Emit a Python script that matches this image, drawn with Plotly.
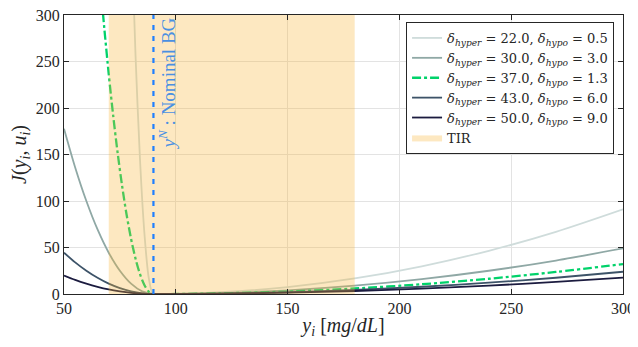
import plotly.graph_objects as go

# Parameters (legend)
delta_hyper = [22.0, 30.0, 37.0, 43.0, 50.0]
delta_hypo = [0.5, 3.0, 1.3, 6.0, 9.0]

# Curve samples
x1 = [80, 82, 84, 86, 88, 90, 100, 120, 150, 180, 210, 240, 270, 300]
y1 = [400, 256, 144, 64, 16, 0, 0.2, 1.9, 7.4, 16.7, 29.8, 46.5, 66.9, 91.1]

x2 = [50, 55, 60, 65, 70, 75, 80, 85, 90, 100, 120, 150, 180, 210, 240, 270, 300]
y2 = [177.8, 136.1, 100.0, 69.4, 44.4, 25.0, 11.1, 2.8, 0, 0.1, 1.0, 4.0, 9.0, 16.0, 25.0, 36.0, 49.0]

x3 = [66, 68, 70, 72, 74, 76, 78, 80, 82, 84, 86, 88, 90, 100, 120, 150, 180, 210, 240, 270, 300]
y3 = [340.8, 286.4, 236.7, 191.7, 151.5, 116.0, 85.2, 59.2, 37.9, 21.3, 9.5, 2.4, 0, 0.1, 0.7, 2.6, 5.9, 10.5, 16.4, 23.7, 32.2]

x4 = [50, 55, 60, 65, 70, 75, 80, 85, 90, 100, 120, 150, 180, 210, 240, 270, 300]
y4 = [44.4, 34.0, 25.0, 17.4, 11.1, 6.3, 2.8, 0.7, 0, 0.05, 0.5, 1.9, 4.4, 7.8, 12.2, 17.5, 23.9]

x5 = [50, 55, 60, 65, 70, 75, 80, 85, 90, 100, 120, 150, 180, 210, 240, 270, 300]
y5 = [19.8, 15.1, 11.1, 7.7, 4.9, 2.8, 1.2, 0.3, 0, 0.04, 0.4, 1.4, 3.2, 5.8, 9.0, 13.0, 17.6]

tir_low, tir_high = 70, 180
nominal_bg = 90

xs = [x1, x2, x3, x4, x5]
ys = [y1, y2, y3, y4, y5]
colors = ["#cfdcdb", "#8fa8a5", "#00d26a", "#3d5368", "#1b1b3f"]
dashes = ["solid", "solid", "9px,3px,3px,3px", "solid", "solid"]
widths = [1.8, 1.8, 2.3, 1.8, 1.8]

SERIF = "Liberation Serif"
fig = go.Figure()
for i in range(5):
    name = (f"<i>δ<sub>hyper</sub></i> = {delta_hyper[i]:.1f}, "
            f"<i>δ<sub>hypo</sub></i> = {delta_hypo[i]:.1f}")
    fig.add_trace(go.Scatter(
        x=xs[i], y=ys[i], mode="lines", name=name,
        line=dict(color=colors[i], width=widths[i], dash=dashes[i], shape="spline", smoothing=0.8),
    ))

# TIR band (drawn over the curves, semi-transparent)
fig.add_trace(go.Scatter(
    x=[tir_low, tir_high, tir_high, tir_low, tir_low],
    y=[0, 0, 300, 300, 0],
    mode="lines", fill="toself", fillcolor="rgba(249,178,51,0.3)",
    line=dict(width=0, color="rgba(0,0,0,0)"), name="TIR", hoverinfo="skip",
))

# Nominal BG line
fig.add_trace(go.Scatter(
    x=[nominal_bg, nominal_bg], y=[0, 300], mode="lines", showlegend=False,
    line=dict(color="#1f7fff", width=2.2, dash="5px,6px"),
))

fig.add_annotation(
    x=nominal_bg, y=300, xref="x", yref="y", text="<i>y<sup>N</sup></i> : Nominal BG",
    textangle=-90, xanchor="left", yanchor="top", showarrow=False,
    font=dict(family=SERIF, size=19, color="#4a90e2"), xshift=0, yshift=0,
)

axis_common = dict(
    showline=True, linecolor="#262626", linewidth=1, mirror="ticks",
    ticks="inside", ticklen=5, tickcolor="#262626",
    showgrid=True, gridcolor="#e3e3e3", gridwidth=1, zeroline=False,
    tickfont=dict(family=SERIF, size=16, color="#262626"),
    ticklabeloverflow="allow",
)

fig.update_xaxes(range=[50, 300], tickvals=[50, 100, 150, 200, 250, 300],
                 title=dict(text="<i>y<sub>i</sub></i> [<i>mg</i>/<i>dL</i>]",
                            font=dict(family=SERIF, size=20, color="#262626"), standoff=6),
                 **axis_common)
fig.update_yaxes(range=[0, 300], tickvals=[0, 50, 100, 150, 200, 250, 300],
                 title=dict(text="<i>J</i>(<i>y<sub>i</sub></i>, <i>u<sub>i</sub></i>)",
                            font=dict(family=SERIF, size=20, color="#262626"), standoff=6),
                 **axis_common)

fig.update_layout(
    width=630, height=331,
    margin=dict(l=56, r=15, t=7, b=45, autoexpand=False),
    plot_bgcolor="white", paper_bgcolor="white",
    legend=dict(x=0.984, y=0.975, xanchor="right", yanchor="top",
                bgcolor="white", bordercolor="#262626", borderwidth=1,
                font=dict(family="DejaVu Serif", size=13, color="#262626"),
                tracegroupgap=0, itemwidth=30),
    showlegend=True,
)

fig.write_html("out.html")
